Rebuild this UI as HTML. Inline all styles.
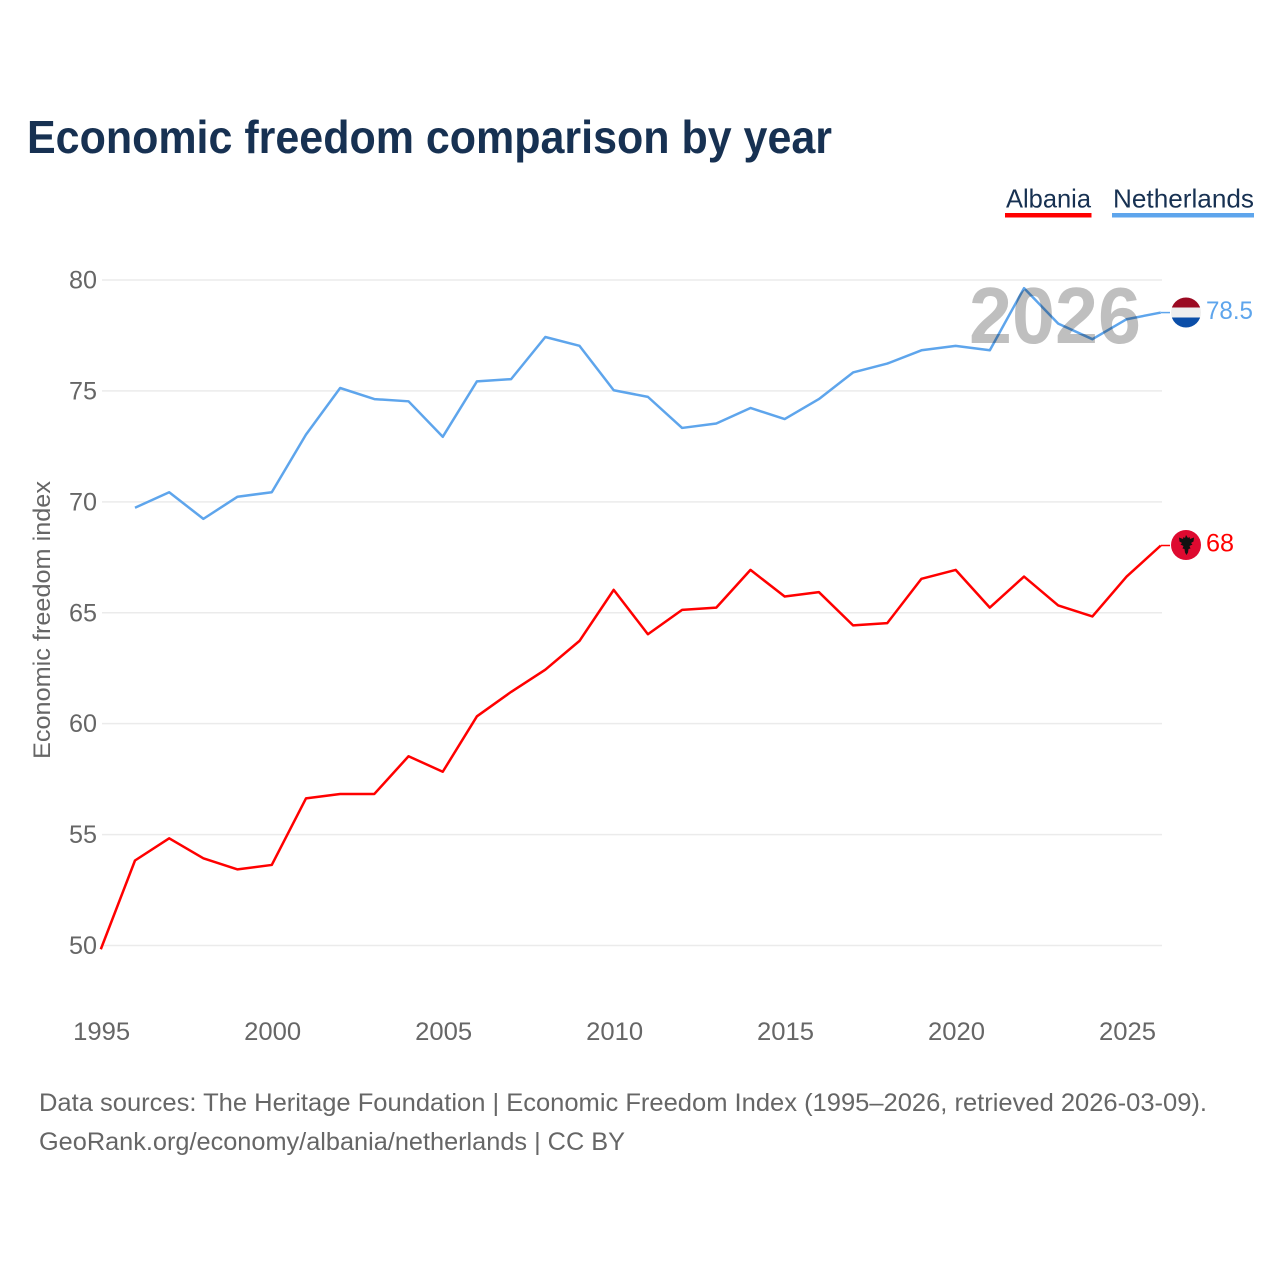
<!DOCTYPE html>
<html lang="en">
<head>
<meta charset="utf-8">
<title>Economic freedom comparison by year</title>
<style>
html,body{margin:0;padding:0;background:#fff;width:1280px;height:1280px;overflow:hidden}
svg{display:block}
text{font-family:"Liberation Sans",sans-serif}
</style>
</head>
<body>
<svg id="chart" width="1280" height="1280" viewBox="0 0 1280 1280" xmlns="http://www.w3.org/2000/svg">
  <defs>
    <clipPath id="nl-clip"><circle cx="1186" cy="312.5" r="15"/></clipPath>
    <clipPath id="al-clip"><circle cx="1186" cy="545" r="15"/></clipPath>
  </defs>
  <text x="27" y="153" font-size="46" font-weight="700" fill="#173152" textLength="805" lengthAdjust="spacingAndGlyphs">Economic freedom comparison by year</text>

  <g>
    <g>
      <text x="1006" y="207.500" font-size="26" fill="#173152" textLength="85" lengthAdjust="spacingAndGlyphs">Albania</text>
      <rect x="1005" y="213" width="86.500" height="4.500" fill="#ff0000"/>
    </g>
    <g>
      <text x="1113" y="207.500" font-size="26" fill="#173152" textLength="141" lengthAdjust="spacingAndGlyphs">Netherlands</text>
      <rect x="1112" y="213" width="142" height="4.500" fill="#5ea5ec"/>
    </g>
  </g>

  <g id="grid"></g>
  <g id="y-ticks"></g>
  <g id="x-ticks"></g>
  <text transform="translate(50,620) rotate(-90)" text-anchor="middle" font-size="24" fill="#666" textLength="278" lengthAdjust="spacingAndGlyphs">Economic freedom index</text>

  <g id="series" transform="translate(-1.2,-0.7)"></g>

  <text x="969" y="343" font-size="80" font-weight="700" fill="#000" fill-opacity="0.25" textLength="172" lengthAdjust="spacingAndGlyphs">2026</text>

  <g id="ends" transform="translate(0,-0.7)"></g>

  <g clip-path="url(#nl-clip)">
    <rect x="1171" y="297" width="30" height="10.500" fill="#9b0a22"/>
    <rect x="1171" y="307.500" width="30" height="10" fill="#eeeeee"/>
    <rect x="1171" y="317.500" width="30" height="11" fill="#0b4ea8"/>
  </g>
  <g>
    <circle cx="1186" cy="545" r="15" fill="#de0a30"/>
    <path d="M1186 535l2 3 1.500-1 .5 2 4-1.500-.5 4-2.500 1.500 1.500 1.500-3 1.500 1 2.500-2 .5-.5 3.500-1.500 2.500-1.500-2.500-.5-3.500-2-.5 1-2.500-3-1.500 1.500-1.500-2.500-1.500-.5-4 4 1.500.5-2 1.500 1z" fill="#111"/>
  </g>

  <g>
    <text x="39" y="1111" font-size="25" fill="#666" textLength="1168" lengthAdjust="spacingAndGlyphs">Data sources: The Heritage Foundation | Economic Freedom Index (1995–2026, retrieved 2026-03-09).</text>
    <text x="39" y="1150" font-size="25" fill="#666" textLength="586" lengthAdjust="spacingAndGlyphs">GeoRank.org/economy/albania/netherlands | CC BY</text>
  </g>
</svg>
<script>
const years = [1995,1996,1997,1998,1999,2000,2001,2002,2003,2004,2005,2006,2007,2008,2009,2010,2011,2012,2013,2014,2015,2016,2017,2018,2019,2020,2021,2022,2023,2024,2025,2026];
const albania = [49.8,53.8,54.8,53.9,53.4,53.6,56.6,56.8,56.8,58.5,57.8,60.3,61.4,62.4,63.7,66,64,65.1,65.2,66.9,65.7,65.9,64.4,64.5,66.5,66.9,65.2,66.6,65.3,64.8,66.6,68];
const netherlands = [null,69.7,70.4,69.2,70.2,70.4,73,75.1,74.6,74.5,72.9,75.4,75.5,77.4,77,75,74.7,73.3,73.5,74.2,73.7,74.6,75.8,76.2,76.8,77,76.8,79.6,78,77.3,78.2,78.5];
const yTickValues = [50,55,60,65,70,75,80];
const xTickValues = [1995,2000,2005,2010,2015,2020,2025];

const NS = 'http://www.w3.org/2000/svg';
const xScale = function (year) { return 102 + (year - 1995) * (1162 - 102) / (2026 - 1995); };
const yScale = function (value) { return 945.5 - (value - 50) * (945.5 - 280) / (80 - 50); };

const make = function (parent, tag, attrs, text) {
  const el = document.createElementNS(NS, tag);
  Object.keys(attrs).forEach(function (k) { el.setAttribute(k, attrs[k]); });
  if (text !== undefined) el.textContent = text;
  document.getElementById(parent).appendChild(el);
  return el;
};

yTickValues.forEach(function (v) {
  const line = make('grid', 'line', {x1: 102, x2: 1162, y1: yScale(v), y2: yScale(v), stroke: '#ebebeb', 'stroke-width': 1.5});
  
  
  const label = make('y-ticks', 'text', {x: 97, y: yScale(v) + 8.5, 'text-anchor': 'end', 'font-size': 25, fill: '#666', textLength: 28, lengthAdjust: 'spacingAndGlyphs'}, String(v));
  
  
});

xTickValues.forEach(function (v) {
  const label = make('x-ticks', 'text', {x: xScale(v) - 0.3, y: 1040, 'text-anchor': 'middle', 'font-size': 25, fill: '#666', textLength: 57, lengthAdjust: 'spacingAndGlyphs'}, String(v));
  
  
});

const buildPath = function (values) {
  let d = '';
  values.forEach(function (v, i) {
    if (v === null) return;
    d += (d ? 'L' : 'M') + xScale(years[i]).toFixed(2) + ' ' + yScale(v).toFixed(2);
  });
  return d;
};

const albaniaLine = make('series', 'path', {d: buildPath(albania), fill: 'none', stroke: '#ff0000', 'stroke-width': 2.5, 'stroke-linejoin': 'round'});



const netherlandsLine = make('series', 'path', {d: buildPath(netherlands), fill: 'none', stroke: '#5ea5ec', 'stroke-width': 2.5, 'stroke-linejoin': 'round'});



const lastAlbania = albania[albania.length - 1];
const lastNetherlands = netherlands[netherlands.length - 1];

const albaniaConnector = make('ends', 'line', {x1: 1161, x2: 1170, y1: yScale(lastAlbania), y2: yScale(lastAlbania), stroke: '#ff0000', 'stroke-width': 1.5});



const netherlandsConnector = make('ends', 'line', {x1: 1161, x2: 1170, y1: yScale(lastNetherlands), y2: yScale(lastNetherlands), stroke: '#5ea5ec', 'stroke-width': 1.5});



const albaniaValue = make('ends', 'text', {x: 1206, y: yScale(lastAlbania) + 6.2, 'font-size': 25, fill: '#ff0000', textLength: 28, lengthAdjust: 'spacingAndGlyphs'}, String(lastAlbania));



const netherlandsValue = make('ends', 'text', {x: 1206, y: yScale(lastNetherlands) + 6.5, 'font-size': 25, fill: '#5ea5ec', textLength: 47, lengthAdjust: 'spacingAndGlyphs'}, String(lastNetherlands));


</script>
</body>
</html>
